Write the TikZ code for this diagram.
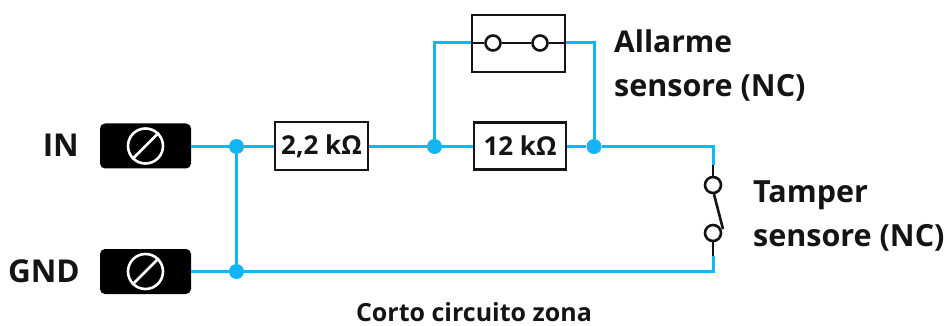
\documentclass[tikz,border=0pt]{standalone}
\usepackage{fontspec}
\setmainfont{Open Sans}
\definecolor{wireblue}{HTML}{12B5F5}
\definecolor{inkblack}{HTML}{141414}
\tikzset{
  x=1pt,y=-1pt,
  wire/.style={draw=wireblue,line width=3pt},
  blk/.style={draw=inkblack,line width=2.6pt},
  dot/.style={circle,fill=wireblue,draw=none,minimum size=15pt,inner sep=0pt},
  term/.style={rectangle,rounded corners=5pt,fill=black,draw=none,minimum width=91pt,minimum height=45pt,inner sep=0pt},
  screw/.style={circle,draw=white,line width=2.6pt,fill=black,minimum size=35pt,inner sep=0pt},
  res/.style={rectangle,draw=inkblack,line width=2.6pt,fill=white,inner sep=0pt,font=\fontsize{26}{30}\selectfont\bfseries,text=inkblack},
  lab/.style={inner sep=0pt,font=\fontsize{30.5}{42}\selectfont\bfseries,text=inkblack,align=left},
  contact/.style={circle,draw=inkblack,line width=2.6pt,fill=white,minimum size=16pt,inner sep=0pt},
}
\begin{document}
\begin{tikzpicture}
\useasboundingbox (0,0) rectangle (948,326);
\fill[white] (0,0) rectangle (948,326);
% coordinates
\coordinate (cornerTR) at (713,146.5);
\coordinate (cornerBR) at (713,271.5);
\coordinate (leadT) at (713,165);
\coordinate (leadB) at (713,256);
\coordinate (topL) at (434.5,43);
\coordinate (topR) at (594,43);
% nodes
\node[term] (tin) at (145.5,146) {};
\node[term] (tgnd) at (145.5,271.5) {};
\node[dot] (j1) at (236.5,146.5) {};
\node[dot] (j2) at (236.5,271.5) {};
\node[dot] (j3) at (434.5,146.5) {};
\node[dot] (j4) at (594,146.5) {};
% wires
\draw[wire] (tin.east |- j1) -- (j1) -- (j3) -- (j4) -- (cornerTR) -- (leadT);
\draw[wire] (tgnd.east) -- (j2) -- (cornerBR) -- (leadB);
\draw[wire] (j1) -- (j2);
\draw[wire] (j3) -- (topL) -- (topR) -- (j4);
% screws
\foreach \t in {tin,tgnd}{
  \node[screw] (s\t) at (\t) {};
  \draw[draw=white,line width=2.6pt] (s\t.45) -- (s\t.225);
}
% resistors
\node[res,minimum width=93pt,minimum height=48pt] (r1) at (321.5,146) {2,2 k\symbol{"03A9}};
\node[res,minimum width=92pt,minimum height=47pt] (r2) at (520,146) {12 k\symbol{"03A9}};
% alarm box
\node[rectangle,draw=inkblack,line width=2.6pt,fill=white,minimum width=93pt,minimum height=57pt,inner sep=0pt] (abox) at (518.5,43.5) {};
\node[contact,minimum size=15pt] (a1) at (493,43) {};
\node[contact,minimum size=15pt] (a2) at (540,43) {};
\draw[blk] (abox.west |- a1) -- (a1) -- (a2) -- (abox.east |- a2);
% tamper switch
\node[contact] (c1) at (713,185) {};
\node[contact] (c2) at (713,233) {};
\coordinate (armEnd) at (723,229);
\draw[blk] (leadT) -- (c1);
\draw[blk] (c2) -- (leadB);
\draw[blk] (c1.south) ++(1,0) -- (armEnd);
% labels
\node[lab,anchor=base east,font=\fontsize{31.5}{42}\selectfont\bfseries] (lin) at (79,157) {IN};
\node[lab,anchor=base east,font=\fontsize{31.5}{42}\selectfont\bfseries] (lgnd) at (80,282) {GND};
\node[lab,anchor=base west,font=\fontsize{30}{42}\selectfont\bfseries] (la1) at (614,53) {Allarme};
\node[lab,anchor=base west] (la2) at (614,97) {sensore (NC)};
\node[lab,anchor=base west] (lt1) at (753,202) {Tamper};
\node[lab,anchor=base west] (lt2) at (753,246) {sensore (NC)};
\node[lab,anchor=base,font=\fontsize{25}{30}\selectfont\bfseries] (cap) at (474,321.5) {Corto circuito zona};
\end{tikzpicture}
\end{document}
